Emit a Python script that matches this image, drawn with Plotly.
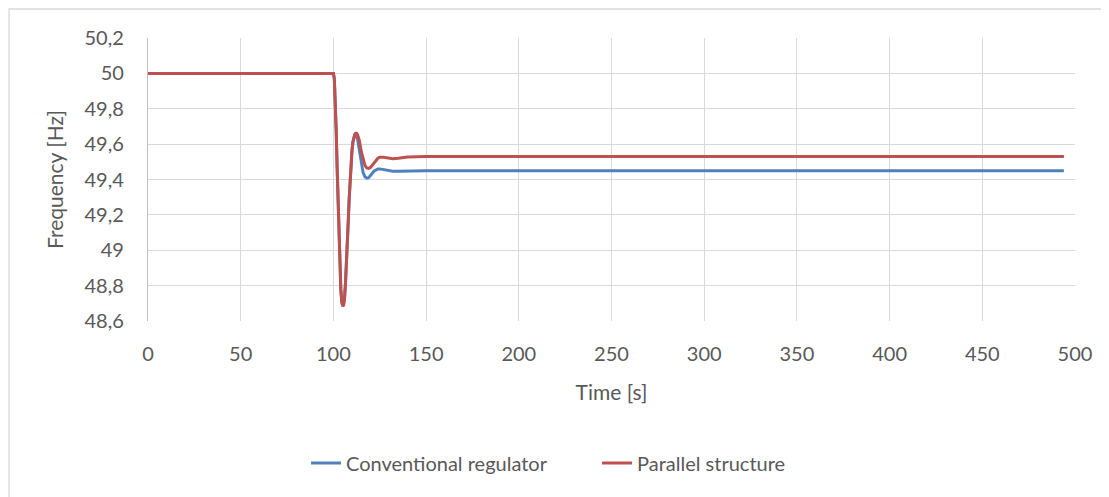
import plotly.graph_objects as go

time_s = [0, 100, 100.5, 101, 101.5, 102, 102.5, 103, 103.5, 104, 104.5, 105, 105.5, 106,
          106.5, 107, 107.5, 108, 108.5, 109, 109.5, 110, 110.5, 111, 111.5, 112, 112.5, 113,
          113.5, 114, 115, 116, 117, 118, 119, 120, 121, 122, 123, 124, 125, 126, 127, 128,
          130, 132, 135, 140, 150, 200, 250, 300, 350, 400, 450, 494]

conventional = [50.0, 50.0, 49.97, 49.86, 49.68, 49.47, 49.26, 49.06, 48.9, 48.78, 48.71,
                48.685, 48.69, 48.73, 48.81, 48.91, 49.03, 49.16, 49.29, 49.4, 49.49, 49.56,
                49.61, 49.64, 49.652, 49.655, 49.65, 49.63, 49.6, 49.565, 49.49, 49.44,
                49.415, 49.408, 49.41, 49.42, 49.435, 49.448, 49.456, 49.46, 49.46, 49.458,
                49.455, 49.452, 49.449, 49.447, 49.447, 49.448, 49.45, 49.45, 49.45, 49.45,
                49.45, 49.45, 49.45, 49.45]

parallel = [50.0, 50.0, 49.97, 49.86, 49.68, 49.47, 49.26, 49.06, 48.9, 48.78, 48.71,
            48.685, 48.69, 48.73, 48.81, 48.91, 49.03, 49.16, 49.29, 49.4, 49.49, 49.56,
            49.61, 49.64, 49.655, 49.662, 49.662, 49.655, 49.64, 49.62, 49.56, 49.51,
            49.48, 49.465, 49.463, 49.468, 49.48, 49.495, 49.51, 49.52, 49.526, 49.527,
            49.526, 49.524, 49.519, 49.517, 49.52, 49.527, 49.53, 49.53, 49.53, 49.53,
            49.53, 49.53, 49.53, 49.53]

x_ticks = [0, 50, 100, 150, 200, 250, 300, 350, 400, 450, 500]
y_ticks = [48.6, 48.8, 49.0, 49.2, 49.4, 49.6, 49.8, 50.0, 50.2]
y_labels = ["48,6", "48,8", "49", "49,2", "49,4", "49,6", "49,8", "50", "50,2"]

FONT = "Lato, 'Open Sans', sans-serif"
GRID = "#d9d9d9"
TXT = "#595959"

fig = go.Figure()
fig.add_trace(go.Scatter(x=time_s, y=conventional, mode="lines", name="Conventional regulator",
                         line=dict(color="#4f81bd", width=3)))
fig.add_trace(go.Scatter(x=time_s, y=parallel, mode="lines", name="Parallel structure",
                         line=dict(color="#c0504d", width=3)))

fig.update_layout(
    width=1101, height=489,
    margin=dict(l=140, r=34, t=30, b=176),
    paper_bgcolor="white", plot_bgcolor="white",
    font=dict(family=FONT, size=20, color=TXT),
    showlegend=True,
    legend=dict(orientation="h", xref="container", yref="container",
                x=0.2707, y=0.0695, xanchor="left", yanchor="middle",
                entrywidth=246, entrywidthmode="pixels",
                font=dict(size=20, color=TXT), tracegroupgap=0),
    xaxis=dict(range=[0, 500], tickvals=x_ticks, ticktext=[str(v) for v in x_ticks],
               showgrid=True, gridcolor=GRID, gridwidth=1.3, zeroline=False,
               showline=False, ticks="", ticklabelstandoff=19, tickfont=dict(size=20, color=TXT),
               title=dict(text="Time [s]", font=dict(size=21, color=TXT), standoff=21)),
    yaxis=dict(range=[48.6, 50.2], tickvals=y_ticks, ticktext=y_labels,
               showgrid=True, gridcolor=GRID, gridwidth=1.3, zeroline=False,
               showline=True, linecolor="#bfbfbf", linewidth=1.3, ticks="",
               ticklabelstandoff=19, tickfont=dict(size=20, color=TXT),
               title=dict(text="Frequency [Hz]", font=dict(size=21, color=TXT), standoff=15)),
    shapes=[dict(type="rect", xref="paper", yref="paper",
                 x0=-0.1499, x1=1.2, y0=-0.8, y1=1.1025,
                 line=dict(color="#d9d9d9", width=1.3), layer="below")],
)

fig.write_html("out.html")
